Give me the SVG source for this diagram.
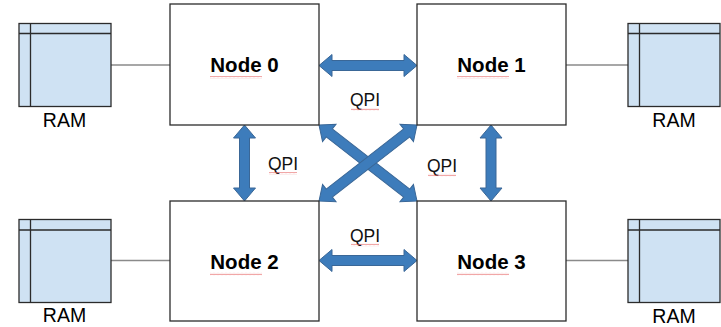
<svg xmlns="http://www.w3.org/2000/svg" width="721" height="327" viewBox="0 0 721 327">
<defs>
<style>
.node{fill:#fff;stroke:#2b2b2b;stroke-width:1.3}
.ram{fill:#cfe2f3;stroke:#2b2b2b;stroke-width:1.3}
.ramline{stroke:#2b2b2b;stroke-width:1.3;fill:none}
.link{stroke:#8a8a8a;stroke-width:1.3;fill:none}
.lbl{font-family:"Liberation Sans",Arial,sans-serif;font-weight:bold;font-size:20.5px;fill:#000;text-anchor:middle}
.qpi{font-family:"Liberation Sans",Arial,sans-serif;font-size:17.5px;fill:#111;text-anchor:middle}
.ramt{font-family:"Liberation Sans",Arial,sans-serif;font-size:19.5px;fill:#000;text-anchor:middle}
.arr{fill:#3d7cbb;stroke:#3a6797;stroke-width:1}
.sq{fill:url(#squig)}
</style>
<pattern id="squig" width="4" height="3" patternUnits="userSpaceOnUse">
<path d="M0,2.2 L1,0.8 L2,2.2 L3,0.8 L4,2.2" fill="none" stroke="#e86a6a" stroke-width="0.6"/>
</pattern>
</defs>

<g id="connectors">
<line class="link" x1="111" y1="65" x2="170" y2="65"/>
<line class="link" x1="566" y1="65" x2="628" y2="65"/>
<line class="link" x1="111" y1="260.5" x2="170" y2="260.5"/>
<line class="link" x1="566" y1="260.5" x2="628" y2="260.5"/>
<path id="a-top" class="arr" transform="translate(319,65.5)" d="M0,0 L13,-11 L13,-5 L85,-5 L85,-11 L98,0 L85,11 L85,5 L13,5 L13,11 Z"/>
<path id="a-bot" class="arr" transform="translate(319,260.5)" d="M0,0 L13,-11 L13,-5 L85,-5 L85,-11 L98,0 L85,11 L85,5 L13,5 L13,11 Z"/>
<path id="a-left" class="arr" transform="translate(244.5,125) rotate(90)" d="M0,0 L13,-11 L13,-5 L63,-5 L63,-11 L76,0 L63,11 L63,5 L13,5 L13,11 Z"/>
<path id="a-right" class="arr" transform="translate(491,125) rotate(90)" d="M0,0 L13,-11 L13,-5 L63,-5 L63,-11 L76,0 L63,11 L63,5 L13,5 L13,11 Z"/>
<path id="a-d1" class="arr" transform="translate(319,125) rotate(37.8)" d="M0,0 L13,-11 L13,-5 L111,-5 L111,-11 L124,0 L111,11 L111,5 L13,5 L13,11 Z"/>
<path id="a-d2" class="arr" transform="translate(417,125) rotate(142.2)" d="M0,0 L13,-11 L13,-5 L111,-5 L111,-11 L124,0 L111,11 L111,5 L13,5 L13,11 Z"/>
<text class="qpi" x="365" y="106">QPI</text>
<rect class="sq" x="351" y="108" width="28" height="3"/>
<text class="qpi" x="283" y="170">QPI</text>
<rect class="sq" x="269" y="172" width="28" height="3"/>
<text class="qpi" x="442" y="171.5">QPI</text>
<rect class="sq" x="428" y="173.5" width="28" height="3"/>
<text class="qpi" x="365" y="241.5">QPI</text>
<rect class="sq" x="351" y="243.5" width="28" height="3"/>
</g>

<g id="node0">
<rect class="node" x="170" y="4" width="149" height="121"/>
<text class="lbl" x="244.5" y="72">Node 0</text>
<rect class="sq" x="210" y="76" width="52" height="3"/>
</g>
<g id="node1">
<rect class="node" x="417" y="4" width="149" height="121"/>
<text class="lbl" x="491.5" y="72">Node 1</text>
<rect class="sq" x="457" y="76" width="52" height="3"/>
</g>
<g id="node2">
<rect class="node" x="170" y="201" width="149" height="120"/>
<text class="lbl" x="244.5" y="268.5">Node 2</text>
<rect class="sq" x="210" y="272.5" width="52" height="3"/>
</g>
<g id="node3">
<rect class="node" x="417" y="201" width="149" height="120"/>
<text class="lbl" x="491.5" y="268.5">Node 3</text>
<rect class="sq" x="457" y="272.5" width="52" height="3"/>
</g>

<g id="ram0">
<rect class="ram" x="19" y="23.5" width="92" height="83"/>
<path class="ramline" d="M19,33.5 H111 M30.5,23.5 V106.5"/>
<text class="ramt" x="64.5" y="127">RAM</text>
</g>
<g id="ram1">
<rect class="ram" x="628" y="23.5" width="92" height="83"/>
<path class="ramline" d="M628,33.5 H720 M639.5,23.5 V106.5"/>
<text class="ramt" x="674" y="127">RAM</text>
</g>
<g id="ram2">
<rect class="ram" x="19" y="219.5" width="92" height="83"/>
<path class="ramline" d="M19,230 H111 M30.5,219.5 V302.5"/>
<text class="ramt" x="64.5" y="322">RAM</text>
</g>
<g id="ram3">
<rect class="ram" x="628" y="219.5" width="92" height="83"/>
<path class="ramline" d="M628,230 H720 M639.5,219.5 V302.5"/>
<text class="ramt" x="674" y="322.5">RAM</text>
</g>
</svg>
